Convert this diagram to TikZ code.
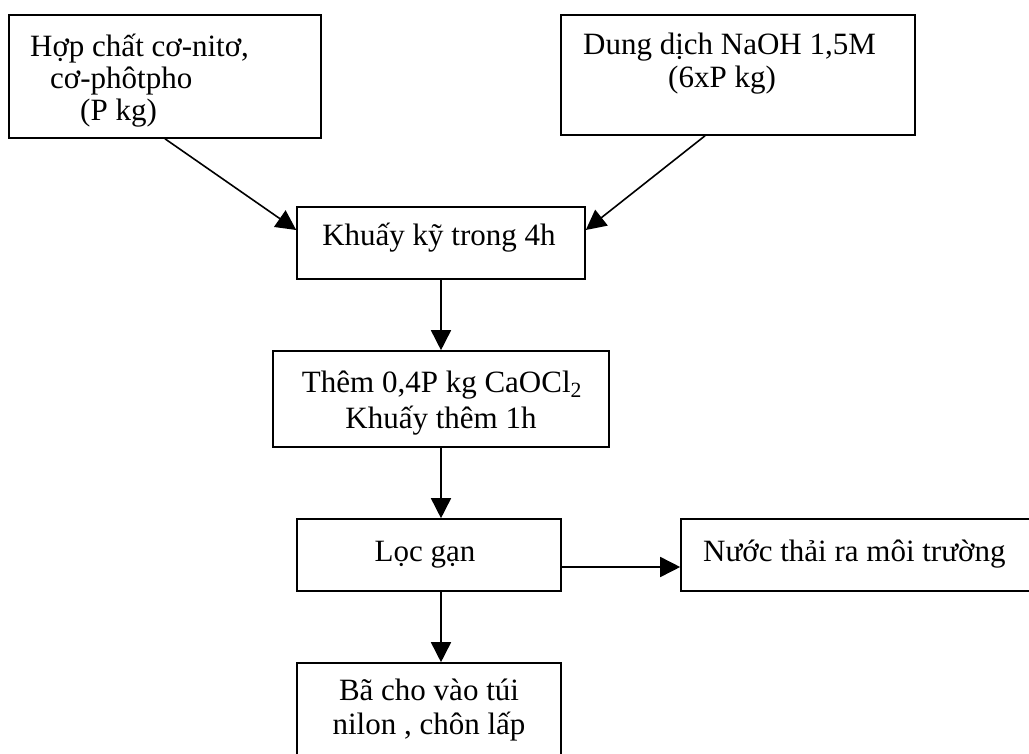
\documentclass[tikz,border=0pt]{standalone}
\usepackage{fontspec}
\setmainfont{Liberation Serif}
\usetikzlibrary{arrows.meta}

\begin{document}
\begin{tikzpicture}[x=1pt,y=-1pt]
  \tikzset{flowbox/.style={draw=black,line width=1.6pt,inner sep=0pt}}
  \tikzset{flowtext/.style={inner sep=0pt,font=\fontsize{31}{34}\selectfont,text=black}}
  \tikzset{flowarrow/.style={draw=black,line width=1.6pt,-{Triangle[length=20pt,width=20pt]}}}
  \useasboundingbox (0,0) rectangle (1029,754);
  \node[flowbox,minimum width=312pt,minimum height=123pt] (src1) at (165,76.5) {};
  \node[flowbox,minimum width=354pt,minimum height=120pt] (src2) at (738,75) {};
  \node[flowbox,minimum width=288pt,minimum height=72pt] (stir) at (441,243) {};
  \node[flowbox,minimum width=336pt,minimum height=96pt] (mix) at (441,399) {};
  \node[flowbox,minimum width=264pt,minimum height=72pt] (filter) at (429,555) {};
  \node[flowbox,minimum width=351pt,minimum height=72pt] (waste) at (856.5,555) {};
  \node[flowbox,minimum width=264pt,minimum height=95pt] (residue) at (429,710.5) {};
  % texts
  \node[flowtext,anchor=base west] (src1a) at (30,57) {Hợp chất cơ-nitơ,};
  \node[flowtext,anchor=base west] (src1b) at (50,89) {cơ-phôtpho};
  \node[flowtext,anchor=base west] (src1c) at (80,121) {(P kg)};
  \node[flowtext,anchor=base west] (src2a) at (583,55) {Dung dịch NaOH 1,5M};
  \node[flowtext,anchor=base west] (src2b) at (668,88) {(6xP kg)};
  \node[flowtext,anchor=base] (stirtext) at (439,246) {Khuấy kỹ trong 4h};
  \node[flowtext,anchor=base] (mixa) at (442,392) {Thêm 0,4P kg CaOCl\textsubscript{2}};
  \node[flowtext,anchor=base] (mixb) at (441,428) {Khuấy thêm 1h};
  \node[flowtext,anchor=base] (filtertext) at (425,561) {Lọc gạn};
  \node[flowtext,anchor=base west] (wastetext) at (703,561) {Nước thải ra môi trường};
  \node[flowtext,anchor=base] (residuea) at (429,700) {Bã cho vào túi};
  \node[flowtext,anchor=base] (residueb) at (429,734) {nilon , chôn lấp};
  % arrows
  \draw[flowarrow] (src1.south) -- ([yshift=13pt]stir.west);
  \draw[flowarrow] ([xshift=-33pt]src2.south) -- ([yshift=13pt]stir.east);
  \draw[flowarrow] (stir.south) -- (mix.north);
  \draw[flowarrow] (mix.south) -- ([xshift=12pt]filter.north);
  \draw[flowarrow] ([yshift=-12pt]filter.east) -- ([yshift=-12pt]waste.west);
  \draw[flowarrow] ([xshift=12pt]filter.south) -- ([xshift=12pt]residue.north);
\end{tikzpicture}
\end{document}
